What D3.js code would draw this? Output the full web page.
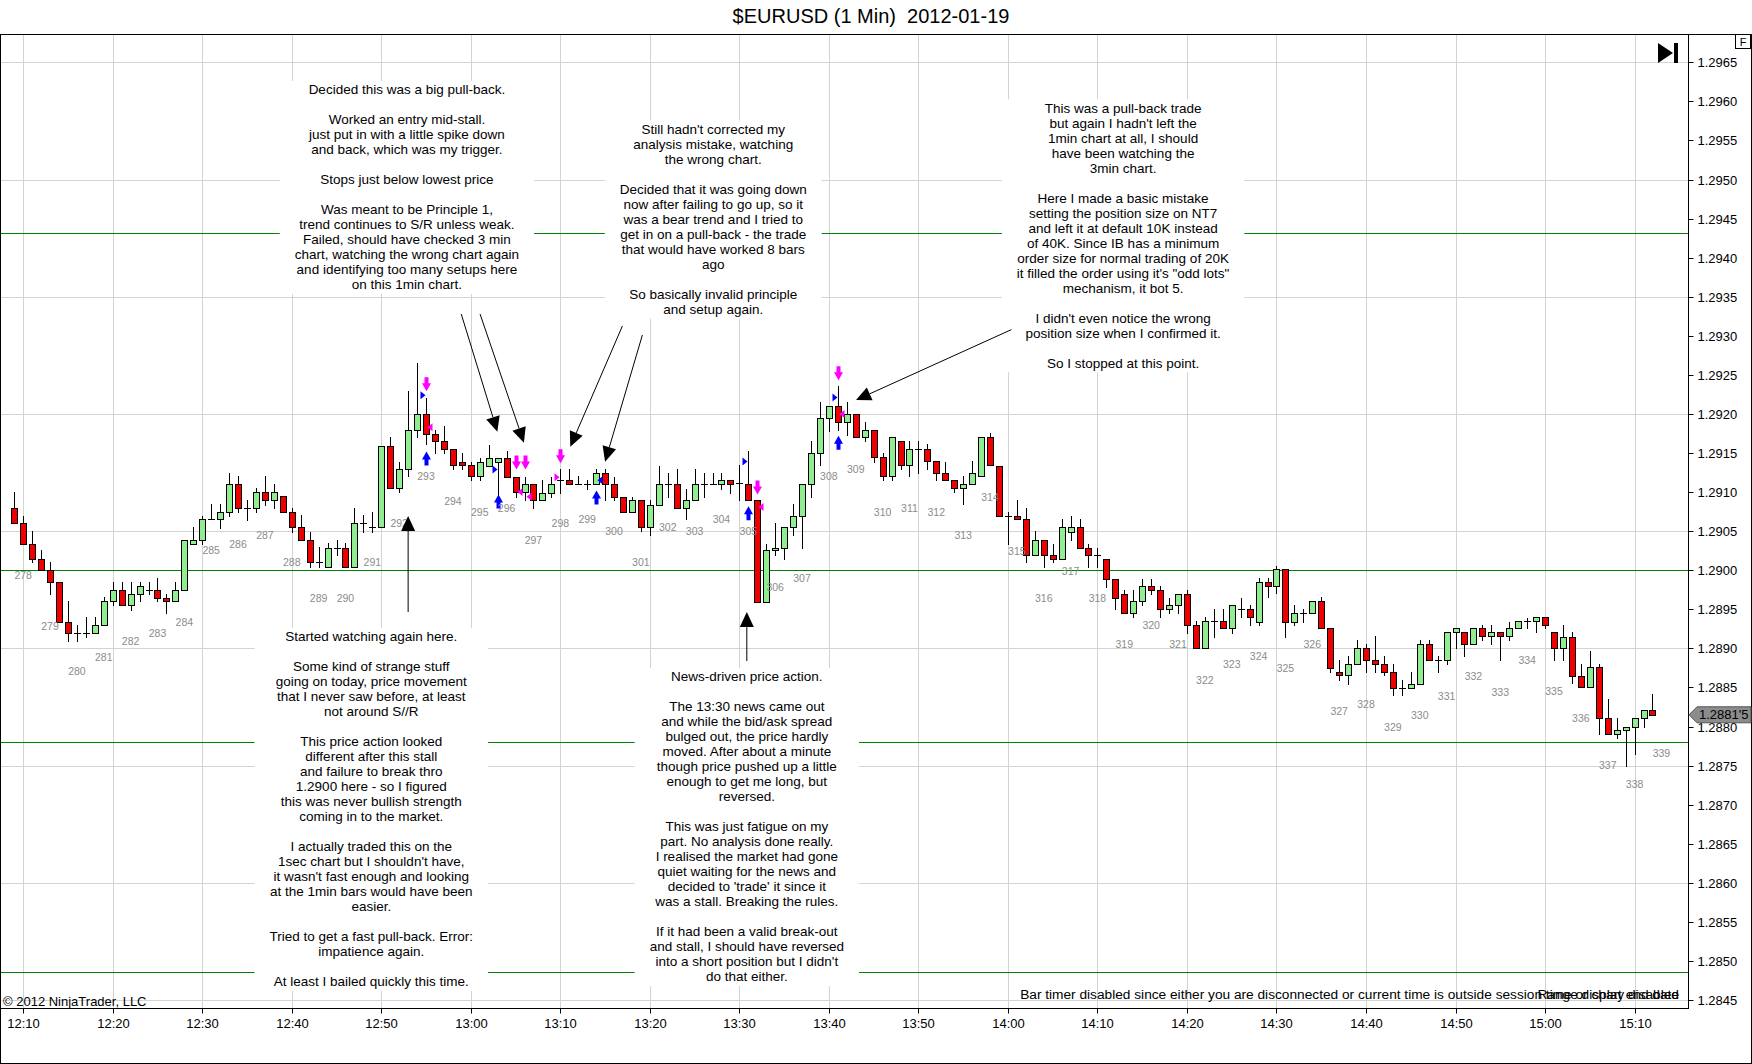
<!DOCTYPE html>
<html>
<head>
<meta charset="utf-8">
<title>$EURUSD (1 Min) 2012-01-19</title>
<script src="https://cdn.jsdelivr.net/npm/d3@7"></script>
<style>
  html, body { margin: 0; padding: 0; background: #fff; }
  svg { display: block; font-family: "Liberation Sans", Arial, sans-serif; }
  .note-text { font-size: 13.5px; fill: #000; }
  .swing { font-size: 10.5px; fill: #8c8c8c; }
  .axis text { font-size: 13px; fill: #000; font-family: "Liberation Sans", Arial, sans-serif; }
  .axis line { stroke: #000; }
</style>
</head>
<body>
<svg id="chart" width="1752" height="1064"></svg>
<script>
// 1 minute bars
const barTimes = [
  "12:09","12:10","12:11","12:12","12:13","12:14","12:15","12:16","12:17","12:18",
  "12:19","12:20","12:21","12:22","12:23","12:24","12:25","12:26","12:27","12:28",
  "12:29","12:30","12:31","12:32","12:33","12:34","12:35","12:36","12:37","12:38",
  "12:39","12:40","12:41","12:42","12:43","12:44","12:45","12:46","12:47","12:48",
  "12:49","12:50","12:51","12:52","12:53","12:54","12:55","12:56","12:57","12:58",
  "12:59","13:00","13:01","13:02","13:03","13:04","13:05","13:06","13:07","13:08",
  "13:09","13:10","13:11","13:12","13:13","13:14","13:15","13:16","13:17","13:18",
  "13:19","13:20","13:21","13:22","13:23","13:24","13:25","13:26","13:27","13:28",
  "13:29","13:30","13:31","13:32","13:33","13:34","13:35","13:36","13:37","13:38",
  "13:39","13:40","13:41","13:42","13:43","13:44","13:45","13:46","13:47","13:48",
  "13:49","13:50","13:51","13:52","13:53","13:54","13:55","13:56","13:57","13:58",
  "13:59","14:00","14:01","14:02","14:03","14:04","14:05","14:06","14:07","14:08",
  "14:09","14:10","14:11","14:12","14:13","14:14","14:15","14:16","14:17","14:18",
  "14:19","14:20","14:21","14:22","14:23","14:24","14:25","14:26","14:27","14:28",
  "14:29","14:30","14:31","14:32","14:33","14:34","14:35","14:36","14:37","14:38",
  "14:39","14:40","14:41","14:42","14:43","14:44","14:45","14:46","14:47","14:48",
  "14:49","14:50","14:51","14:52","14:53","14:54","14:55","14:56","14:57","14:58",
  "14:59","15:00","15:01","15:02","15:03","15:04","15:05","15:06","15:07","15:08",
  "15:09","15:10","15:11","15:12"
];

const opens = [
  1.29079,1.29060,1.29034,1.29015,1.29000,1.28985,1.28934,1.28920,1.28920,1.28920,
  1.28930,1.28960,1.28975,1.28955,1.28970,1.28975,1.28975,1.28965,1.28960,1.28975,
  1.29034,1.29039,1.29065,1.29065,1.29074,1.29110,1.29079,1.29079,1.29100,1.29090,
  1.29095,1.29074,1.29055,1.29039,1.29010,1.29004,1.29029,1.29029,1.29004,1.29060,
  1.29055,1.29055,1.29159,1.29105,1.29129,1.29179,1.29200,1.29174,1.29165,1.29155,
  1.29139,1.29135,1.29121,1.29134,1.29139,1.29144,1.29119,1.29100,1.29110,1.29090,
  1.29099,1.29115,1.29115,1.29110,1.29110,1.29110,1.29124,1.29110,1.29094,1.29074,
  1.29090,1.29055,1.29084,1.29110,1.29110,1.29079,1.29090,1.29110,1.29110,1.29110,
  1.29115,1.29111,1.29110,1.29090,1.28959,1.29026,1.29029,1.29055,1.29070,1.29110,
  1.29150,1.29195,1.29210,1.29190,1.29200,1.29170,1.29180,1.29145,1.29120,1.29165,
  1.29135,1.29155,1.29155,1.29140,1.29124,1.29115,1.29105,1.29110,1.29120,1.29170,
  1.29134,1.29070,1.29070,1.29065,1.29020,1.29039,1.29020,1.29015,1.29049,1.29055,
  1.29029,1.29020,1.29015,1.28989,1.28970,1.28945,1.28960,1.28980,1.28975,1.28950,
  1.28955,1.28970,1.28930,1.28900,1.28935,1.28935,1.28926,1.28950,1.28950,1.28934,
  1.28985,1.28980,1.29001,1.28934,1.28945,1.28945,1.28960,1.28926,1.28870,1.28866,
  1.28880,1.28900,1.28885,1.28880,1.28870,1.28849,1.28849,1.28855,1.28905,1.28885,
  1.28885,1.28921,1.28921,1.28905,1.28926,1.28916,1.28921,1.28916,1.28926,1.28935,
  1.28935,1.28940,1.28921,1.28900,1.28915,1.28865,1.28850,1.28876,1.28811,1.28790,
  1.28795,1.28800,1.28811,1.28821
];

const highs = [
  1.29100,1.29070,1.29050,1.29026,1.29011,1.28985,1.28960,1.28930,1.28940,1.28940,
  1.28966,1.28985,1.28985,1.28985,1.28985,1.28985,1.28990,1.28970,1.28985,1.29039,
  1.29055,1.29070,1.29085,1.29085,1.29124,1.29120,1.29090,1.29105,1.29121,1.29110,
  1.29095,1.29079,1.29071,1.29049,1.29030,1.29035,1.29039,1.29035,1.29079,1.29071,
  1.29074,1.29159,1.29170,1.29139,1.29229,1.29265,1.29220,1.29179,1.29185,1.29155,
  1.29150,1.29139,1.29144,1.29160,1.29144,1.29153,1.29119,1.29119,1.29110,1.29115,
  1.29119,1.29130,1.29130,1.29120,1.29115,1.29129,1.29130,1.29119,1.29094,1.29094,
  1.29090,1.29090,1.29134,1.29124,1.29129,1.29104,1.29129,1.29124,1.29124,1.29124,
  1.29115,1.29135,1.29152,1.29090,1.29034,1.29060,1.29055,1.29085,1.29110,1.29166,
  1.29215,1.29210,1.29236,1.29215,1.29200,1.29190,1.29180,1.29150,1.29170,1.29165,
  1.29166,1.29166,1.29161,1.29140,1.29139,1.29115,1.29120,1.29140,1.29170,1.29175,
  1.29134,1.29075,1.29090,1.29079,1.29050,1.29039,1.29034,1.29065,1.29070,1.29065,
  1.29034,1.29029,1.29015,1.28989,1.28975,1.28975,1.28989,1.28989,1.28980,1.28965,
  1.28970,1.28975,1.28935,1.28940,1.28950,1.28950,1.28955,1.28965,1.28955,1.28990,
  1.28990,1.29006,1.29001,1.28955,1.28950,1.28960,1.28966,1.28926,1.28885,1.28890,
  1.28911,1.28905,1.28916,1.28890,1.28880,1.28860,1.28870,1.28911,1.28911,1.28890,
  1.28921,1.28926,1.28921,1.28926,1.28930,1.28930,1.28921,1.28934,1.28935,1.28939,
  1.28940,1.28940,1.28921,1.28930,1.28921,1.28880,1.28896,1.28880,1.28835,1.28811,
  1.28800,1.28811,1.28821,1.28841
];

const lows = [
  1.29060,1.29034,1.29010,1.29000,1.28970,1.28934,1.28910,1.28910,1.28915,1.28920,
  1.28930,1.28955,1.28955,1.28949,1.28960,1.28970,1.28960,1.28945,1.28960,1.28975,
  1.29034,1.29034,1.29065,1.29054,1.29070,1.29074,1.29064,1.29074,1.29083,1.29079,
  1.29074,1.29049,1.29039,1.29004,1.29004,1.29004,1.29019,1.29004,1.29004,1.29049,
  1.29049,1.29055,1.29105,1.29100,1.29121,1.29170,1.29162,1.29150,1.29150,1.29129,
  1.29129,1.29115,1.29115,1.29134,1.29090,1.29119,1.29094,1.29090,1.29079,1.29090,
  1.29094,1.29099,1.29110,1.29110,1.29104,1.29110,1.29090,1.29090,1.29074,1.29074,
  1.29050,1.29045,1.29084,1.29094,1.29079,1.29065,1.29090,1.29094,1.29110,1.29104,
  1.29099,1.29090,1.29090,1.28959,1.28959,1.29019,1.29015,1.29045,1.29029,1.29094,
  1.29135,1.29178,1.29180,1.29173,1.29170,1.29165,1.29139,1.29115,1.29115,1.29130,
  1.29120,1.29124,1.29130,1.29115,1.29115,1.29100,1.29085,1.29110,1.29120,1.29135,
  1.29070,1.29034,1.29065,1.29010,1.29020,1.29004,1.29010,1.29015,1.29039,1.29029,
  1.29004,1.29004,1.28979,1.28950,1.28945,1.28940,1.28955,1.28970,1.28940,1.28945,
  1.28945,1.28920,1.28900,1.28900,1.28915,1.28926,1.28920,1.28940,1.28930,1.28930,
  1.28966,1.28971,1.28915,1.28930,1.28934,1.28945,1.28926,1.28870,1.28860,1.28855,
  1.28880,1.28870,1.28870,1.28866,1.28840,1.28840,1.28849,1.28855,1.28885,1.28870,
  1.28880,1.28900,1.28890,1.28905,1.28911,1.28905,1.28885,1.28911,1.28926,1.28926,
  1.28921,1.28926,1.28885,1.28885,1.28856,1.28850,1.28850,1.28790,1.28790,1.28785,
  1.28750,1.28765,1.28800,1.28815
];

const closes = [
  1.29060,1.29034,1.29015,1.29000,1.28985,1.28934,1.28920,1.28920,1.28920,1.28930,
  1.28960,1.28975,1.28955,1.28970,1.28980,1.28975,1.28965,1.28960,1.28975,1.29039,
  1.29039,1.29065,1.29065,1.29074,1.29110,1.29079,1.29079,1.29100,1.29090,1.29100,
  1.29074,1.29055,1.29039,1.29010,1.29010,1.29029,1.29029,1.29004,1.29060,1.29060,
  1.29055,1.29159,1.29105,1.29129,1.29179,1.29200,1.29174,1.29165,1.29155,1.29135,
  1.29135,1.29121,1.29139,1.29144,1.29144,1.29119,1.29100,1.29110,1.29090,1.29099,
  1.29110,1.29115,1.29110,1.29110,1.29110,1.29124,1.29110,1.29094,1.29074,1.29090,
  1.29055,1.29084,1.29110,1.29110,1.29079,1.29090,1.29110,1.29110,1.29110,1.29115,
  1.29110,1.29111,1.29090,1.28959,1.29026,1.29029,1.29055,1.29070,1.29110,1.29150,
  1.29195,1.29210,1.29190,1.29200,1.29170,1.29180,1.29145,1.29120,1.29170,1.29135,
  1.29155,1.29155,1.29140,1.29124,1.29115,1.29105,1.29110,1.29124,1.29170,1.29135,
  1.29070,1.29070,1.29065,1.29020,1.29039,1.29020,1.29015,1.29055,1.29055,1.29029,
  1.29020,1.29020,1.28989,1.28965,1.28945,1.28960,1.28980,1.28975,1.28950,1.28955,
  1.28970,1.28930,1.28900,1.28935,1.28935,1.28926,1.28955,1.28950,1.28940,1.28985,
  1.28980,1.29001,1.28934,1.28945,1.28945,1.28960,1.28926,1.28875,1.28866,1.28880,
  1.28900,1.28885,1.28880,1.28870,1.28849,1.28849,1.28855,1.28905,1.28885,1.28885,
  1.28921,1.28926,1.28905,1.28926,1.28916,1.28921,1.28916,1.28926,1.28935,1.28935,
  1.28940,1.28930,1.28900,1.28915,1.28865,1.28850,1.28876,1.28811,1.28790,1.28795,
  1.28800,1.28811,1.28821,1.28815
];

// swing counter labels: [time, price, text]
const swingLabels = [
  ["12:10",1.28994,"278"],["12:13",1.28929,"279"],["12:16",1.28871,"280"],["12:19",1.28889,"281"],
  ["12:22",1.28910,"282"],["12:25",1.28920,"283"],["12:28",1.28934,"284"],["12:31",1.29026,"285"],
  ["12:34",1.29034,"286"],["12:37",1.29045,"287"],["12:40",1.29010,"288"],["12:43",1.28965,"289"],
  ["12:46",1.28965,"290"],["12:49",1.29010,"291"],["12:52",1.29060,"292"],["12:55",1.29121,"293"],
  ["12:58",1.29089,"294"],["13:01",1.29074,"295"],["13:04",1.29079,"296"],["13:07",1.29039,"297"],
  ["13:10",1.29060,"298"],["13:13",1.29065,"299"],["13:16",1.29050,"300"],["13:19",1.29010,"301"],
  ["13:22",1.29055,"302"],["13:25",1.29050,"303"],["13:28",1.29065,"304"],["13:31",1.29050,"305"],
  ["13:34",1.28979,"306"],["13:37",1.28990,"307"],["13:40",1.29120,"308"],["13:43",1.29130,"309"],
  ["13:46",1.29074,"310"],["13:49",1.29079,"311"],["13:52",1.29074,"312"],["13:55",1.29045,"313"],
  ["13:58",1.29094,"314"],["14:01",1.29025,"315"],["14:04",1.28965,"316"],["14:07",1.28999,"317"],
  ["14:10",1.28965,"318"],["14:13",1.28905,"319"],["14:16",1.28930,"320"],["14:19",1.28905,"321"],
  ["14:22",1.28860,"322"],["14:25",1.28880,"323"],["14:28",1.28890,"324"],["14:31",1.28875,"325"],
  ["14:34",1.28905,"326"],["14:37",1.28820,"327"],["14:40",1.28829,"328"],["14:43",1.28799,"329"],
  ["14:46",1.28815,"330"],["14:49",1.28839,"331"],["14:52",1.28865,"332"],["14:55",1.28844,"333"],
  ["14:58",1.28885,"334"],["15:01",1.28846,"335"],["15:04",1.28811,"336"],["15:07",1.28751,"337"],
  ["15:10",1.28726,"338"],["15:13",1.28766,"339"]
];

// execution markers: [time, price, kind]
const executions = [
  ["12:55",1.29238,"sellArrow"],["12:55",1.29224,"buyEntry"],["12:55",1.29143,"buyArrow"],["12:55",1.29183,"sellExit"],
  ["13:03",1.29129,"buyEntry"],["13:03",1.29088,"buyArrow"],
  ["13:05",1.29138,"sellArrow"],["13:05",1.29100,"sellExit"],
  ["13:06",1.29138,"sellArrow"],["13:06",1.29094,"sellExit"],
  ["13:10",1.29146,"sellArrow"],["13:10",1.29119,"sellEntry"],
  ["13:14",1.29093,"buyArrow"],["13:14",1.29115,"buyExit"],
  ["13:31",1.29139,"buyEntry"],["13:31",1.29073,"buyArrow"],
  ["13:32",1.29106,"sellArrow"],["13:32",1.29081,"sellExit"],
  ["13:41",1.29221,"buyEntry"],["13:41",1.29252,"sellArrow"],["13:41",1.29163,"buyArrow"],["13:41",1.29200,"sellExit"]
];

// support / resistance lines
const srLevels = [1.29432, 1.29000, 1.28780, 1.28486];

const priceTicks = [1.2845,1.2850,1.2855,1.2860,1.2865,1.2870,1.2875,1.2880,1.2885,1.2890,1.2895,1.2900,
  1.2905,1.2910,1.2915,1.2920,1.2925,1.2930,1.2935,1.2940,1.2945,1.2950,1.2955,1.2960,1.2965];
const gridPrices = [1.2845,1.2860,1.2875,1.2890,1.2905,1.2920,1.2935,1.2950,1.2965];
const timeTicks = ["12:10","12:20","12:30","12:40","12:50","13:00","13:10","13:20","13:30","13:40",
  "13:50","14:00","14:10","14:20","14:30","14:40","14:50","15:00","15:10"];

// hand drawn arrows: [fromTime, fromPrice, toTime, toPrice]
const arrowLines = [
  ["12:58:56",1.293279,"13:02:58",1.291773],
  ["13:01:02",1.293279,"13:05:56",1.291632],
  ["13:16:56",1.293125,"13:11:07",1.291581],
  ["13:19:10",1.293010,"13:15:00",1.291389],
  ["14:00:23",1.293079,"13:43:02",1.292178],
  ["12:53:00",1.289465,"12:53:00",1.290694],
  ["13:30:50",1.288838,"13:30:50",1.289465]
];

const note1Lines = [
  "Decided this was a big pull-back.", "",
  "Worked an entry mid-stall.", "just put in with a little spike down", "and back, which was my trigger.", "",
  "Stops just below lowest price", "",
  "Was meant to be Principle 1,", "trend continues to S/R unless weak.", "Failed, should have checked 3 min",
  "chart, watching the wrong chart again", "and identifying too many setups here", "on this 1min chart."
];
const note2Lines = [
  "Still hadn't corrected my", "analysis mistake, watching", "the wrong chart.", "",
  "Decided that it was going down", "now after failing to go up, so it", "was a bear trend and I tried to",
  "get in on a pull-back - the trade", "that would have worked 8 bars", "ago", "",
  "So basically invalid principle", "and setup again."
];
const note3Lines = [
  "This was a pull-back trade", "but again I hadn't left the", "1min chart at all, I should", "have been watching the", "3min chart.", "",
  "Here I made a basic mistake", "setting the position size on NT7", "and left it at default 10K instead",
  "of 40K. Since IB has a minimum", "order size for normal trading of 20K", "it filled the order using it's \"odd lots\"",
  "mechanism, it bot 5.", "",
  "I didn't even notice the wrong", "position size when I confirmed it.", "",
  "So I stopped at this point."
];
const note4Lines = [
  "Started watching again here.", "",
  "Some kind of strange stuff", "going on today, price movement", "that I never saw before, at least", "not around S//R", "",
  "This price action looked", "different after this stall", "and failure to break thro", "1.2900 here - so I figured",
  "this was never bullish strength", "coming in to the market.", "",
  "I actually traded this on the", "1sec chart but I shouldn't have,", "it wasn't fast enough and looking",
  "at the 1min bars would have been", "easier.", "",
  "Tried to get a fast pull-back. Error:", "impatience again.", "",
  "At least I bailed quickly this time."
];
const note5Lines = [
  "News-driven price action.", "",
  "The 13:30 news came out", "and while the bid/ask spread", "bulged out, the price hardly", "moved. After about a minute",
  "though price pushed up a little", "enough to get me long, but", "reversed.", "",
  "This was just fatigue on my", "part. No analysis done really.", "I realised the market had gone",
  "quiet waiting for the news and", "decided to 'trade' it since it", "was a stall. Breaking the rules.", "",
  "If it had been a valid break-out", "and stall, I should have reversed", "into a short position but I didn't", "do that either."
];

// anchor of each note: centre time, price of first line
const notes = [
  { time: "12:52:52", price: 1.296146, lines: note1Lines },
  { time: "13:27:05", price: 1.295639, lines: note2Lines },
  { time: "14:12:52", price: 1.295911, lines: note3Lines },
  { time: "12:48:53", price: 1.289147, lines: note4Lines },
  { time: "13:30:50", price: 1.288634, lines: note5Lines }
];

const titleText = "$EURUSD (1 Min)  2012-01-19";
const copyrightText = "\u00a9 2012 NinjaTrader, LLC";
const barTimerText = "Bar timer disabled since either you are disconnected or current time is outside session time or chart end date";
const rangeText = "Range display disabled";
const lastPriceLabel = "1.2881'5";

function toMinutes(s) {
  const [h, m, sec = 0] = s.split(":").map(Number);
  return h * 60 + m + sec / 60;
}

const W = 1752;
const H = 1064;
const plot = { left: 0, top: 34, right: 1688, bottom: 1008 };
const lineHeight = 15;

const x = d3.scaleLinear()
  .domain([toMinutes("12:07:24.6"), toMinutes("15:15:58")])
  .range([plot.left, plot.right]);

const y = d3.scaleLinear()
  .domain([1.284394, 1.296862])
  .range([1008.3, plot.top]);

const snap = (v) => Math.round(v) + 0.5;

const svg = d3.select("#chart");

svg.append("rect").attr("width", W).attr("height", H).attr("fill", "#fff");

svg.append("defs").append("clipPath").attr("id", "plot-clip")
  .append("rect")
  .attr("x", plot.left).attr("y", plot.top)
  .attr("width", plot.right - plot.left).attr("height", plot.bottom - plot.top);

const plotG = svg.append("g").attr("clip-path", "url(#plot-clip)");

// grid
plotG.append("g")
  .selectAll("line")
  .data(timeTicks)
  .join("line")
  .attr("x1", (d) => snap(x(toMinutes(d))))
  .attr("x2", (d) => snap(x(toMinutes(d))))
  .attr("y1", plot.top)
  .attr("y2", plot.bottom)
  .attr("stroke", "#d3d3d3");

plotG.append("g")
  .selectAll("line")
  .data(gridPrices)
  .join("line")
  .attr("x1", plot.left)
  .attr("x2", plot.right)
  .attr("y1", (d) => snap(y(d)))
  .attr("y2", (d) => snap(y(d)))
  .attr("stroke", "#d3d3d3");

// S/R lines
plotG.append("g")
  .selectAll("line")
  .data(srLevels)
  .join("line")
  .attr("x1", plot.left)
  .attr("x2", plot.right)
  .attr("y1", (d) => snap(y(d)))
  .attr("y2", (d) => snap(y(d)))
  .attr("stroke", "#008000");

// text notes on white boxes
notes.forEach((note) => {
  const g = plotG.append("g");
  const cx = x(toMinutes(note.time));
  const y0 = y(note.price);
  const box = g.append("rect").attr("fill", "#fff");
  const texts = g.selectAll("text")
    .data(note.lines)
    .join("text")
    .attr("class", "note-text")
    .attr("x", cx)
    .attr("y", (d, i) => y0 + i * lineHeight)
    .attr("text-anchor", "middle")
    .attr("dominant-baseline", "central")
    .text((d) => d);
  const widest = d3.max(texts.nodes(), (n) => n.getComputedTextLength());
  box.attr("x", cx - widest / 2 - 15)
    .attr("y", y0 - 9)
    .attr("width", widest + 30)
    .attr("height", (note.lines.length - 1) * lineHeight + 18);
});

// candles
const bars = barTimes.map((t, i) => ({
  t: toMinutes(t), o: opens[i], h: highs[i], l: lows[i], c: closes[i]
}));

const candles = plotG.append("g")
  .selectAll("g")
  .data(bars)
  .join("g");

candles.append("line")
  .attr("x1", (d) => snap(x(d.t)))
  .attr("x2", (d) => snap(x(d.t)))
  .attr("y1", (d) => Math.round(y(d.h)))
  .attr("y2", (d) => Math.round(y(d.l)) + 1)
  .attr("stroke", "#000");

candles.filter((d) => d.o !== d.c)
  .append("rect")
  .attr("x", (d) => Math.round(x(d.t)) - 2.5)
  .attr("y", (d) => Math.round(y(Math.max(d.o, d.c))) + 0.5)
  .attr("width", 6)
  .attr("height", (d) => Math.max(1, Math.round(y(Math.min(d.o, d.c))) - Math.round(y(Math.max(d.o, d.c)))))
  .attr("fill", (d) => (d.c > d.o ? "#90ee90" : "#ee0000"))
  .attr("stroke", "#000");

candles.filter((d) => d.o === d.c)
  .append("line")
  .attr("x1", (d) => Math.round(x(d.t)) - 3)
  .attr("x2", (d) => Math.round(x(d.t)) + 4)
  .attr("y1", (d) => snap(y(d.o)))
  .attr("y2", (d) => snap(y(d.o)))
  .attr("stroke", "#000");

// execution markers
const markerStyle = {
  sellArrow: { color: "#ff00ff", shape: "down", dx: 0 },
  buyArrow: { color: "#0000ff", shape: "up", dx: 0 },
  buyEntry: { color: "#0000ff", shape: "right", dx: -3.5 },
  buyExit: { color: "#0000ff", shape: "left", dx: 3.5 },
  sellEntry: { color: "#ff00ff", shape: "right", dx: -3.5 },
  sellExit: { color: "#ff00ff", shape: "left", dx: 3.5 }
};

function markerPath(shape, cx, cy) {
  if (shape === "down") {
    return `M${cx - 2},${cy - 7}H${cx + 2}V${cy - 1}H${cx + 4.5}L${cx},${cy + 7}L${cx - 4.5},${cy - 1}H${cx - 2}Z`;
  }
  if (shape === "up") {
    return `M${cx - 2},${cy + 7}H${cx + 2}V${cy + 1}H${cx + 4.5}L${cx},${cy - 7}L${cx - 4.5},${cy + 1}H${cx - 2}Z`;
  }
  if (shape === "right") {
    return `M${cx - 2.5},${cy - 4}L${cx + 2.5},${cy}L${cx - 2.5},${cy + 4}Z`;
  }
  return `M${cx + 2.5},${cy - 4}L${cx - 2.5},${cy}L${cx + 2.5},${cy + 4}Z`;
}

plotG.append("g")
  .selectAll("path")
  .data(executions)
  .join("path")
  .attr("d", (d) => {
    const s = markerStyle[d[2]];
    return markerPath(s.shape, Math.round(x(toMinutes(d[0]))) + 0.5 + s.dx, y(d[1]));
  })
  .attr("fill", (d) => markerStyle[d[2]].color);

// swing labels
plotG.append("g")
  .selectAll("text")
  .data(swingLabels)
  .join("text")
  .attr("class", "swing")
  .attr("x", (d) => x(toMinutes(d[0])))
  .attr("y", (d) => y(d[1]))
  .attr("text-anchor", "middle")
  .attr("dominant-baseline", "central")
  .text((d) => d[2]);

// arrows
const arrowG = plotG.append("g");
arrowLines.forEach(([t1, p1, t2, p2]) => {
  const x1 = x(toMinutes(t1)), y1 = y(p1), x2 = x(toMinutes(t2)), y2 = y(p2);
  const len = Math.hypot(x2 - x1, y2 - y1);
  const ux = (x2 - x1) / len, uy = (y2 - y1) / len;
  const bx = x2 - ux * 15, by = y2 - uy * 15;
  arrowG.append("line")
    .attr("x1", x1).attr("y1", y1).attr("x2", bx).attr("y2", by)
    .attr("stroke", "#000");
  arrowG.append("path")
    .attr("d", `M${x2},${y2}L${bx - uy * 7},${by + ux * 7}L${bx + uy * 7},${by - ux * 7}Z`)
    .attr("fill", "#000");
});

// status texts inside the plot
svg.append("text")
  .attr("x", 3).attr("y", 1001)
  .attr("dominant-baseline", "central")
  .attr("font-size", 13)
  .text(copyrightText);

svg.append("g")
  .selectAll("text")
  .data([barTimerText, rangeText])
  .join("text")
  .attr("x", 1679).attr("y", 994)
  .attr("text-anchor", "end")
  .attr("dominant-baseline", "central")
  .attr("font-size", 13.7)
  .text((d) => d);

// axes
svg.append("g")
  .attr("class", "axis")
  .attr("transform", `translate(0,${plot.bottom + 0.5})`)
  .call(d3.axisBottom(x)
    .tickValues(timeTicks.map(toMinutes))
    .tickFormat((d, i) => timeTicks[i])
    .tickSize(5)
    .tickPadding(5))
  .call((g) => g.select(".domain").remove())
  .call((g) => g.selectAll(".tick").attr("transform", (d) => `translate(${snap(x(d))},0)`));

svg.append("g")
  .attr("class", "axis")
  .attr("transform", `translate(${plot.right + 0.5},0)`)
  .call(d3.axisRight(y)
    .tickValues(priceTicks)
    .tickFormat(d3.format(".4f"))
    .tickSize(5)
    .tickPadding(4))
  .call((g) => g.select(".domain").remove())
  .call((g) => g.selectAll(".tick").attr("transform", (d) => `translate(0,${snap(y(d))})`));

// frame
svg.append("rect")
  .attr("x", 0.5).attr("y", plot.top + 0.5)
  .attr("width", W - 1).attr("height", H - plot.top - 1)
  .attr("fill", "none").attr("stroke", "#000");

svg.append("line")
  .attr("x1", plot.left).attr("x2", plot.right + 1)
  .attr("y1", plot.bottom + 0.5).attr("y2", plot.bottom + 0.5)
  .attr("stroke", "#000");

svg.append("line")
  .attr("x1", plot.right + 0.5).attr("x2", plot.right + 0.5)
  .attr("y1", plot.top).attr("y2", plot.bottom + 1)
  .attr("stroke", "#000");

// last price marker on the price axis
const lastY = y(closes[closes.length - 1]);
svg.append("path")
  .attr("d", `M${plot.right + 1},${lastY}L${plot.right + 9},${lastY - 8}H${W - 1}V${lastY + 8}H${plot.right + 9}Z`)
  .attr("fill", "#8c8c8c")
  .attr("stroke", "#555");
svg.append("text")
  .attr("x", plot.right + 11).attr("y", lastY)
  .attr("dominant-baseline", "central")
  .attr("font-size", 13)
  .text(lastPriceLabel);

// title
svg.append("text")
  .attr("x", 871).attr("y", 16)
  .attr("text-anchor", "middle")
  .attr("dominant-baseline", "central")
  .attr("font-size", 20)
  .style("white-space", "pre")
  .text(titleText);

// chart chrome: scroll-to-end button and "F" box
svg.append("path").attr("d", "M1658,43L1673,53L1658,63Z").attr("fill", "#000");
svg.append("rect").attr("x", 1674).attr("y", 43).attr("width", 4).attr("height", 20).attr("fill", "#000");
svg.append("rect").attr("x", 1735.5).attr("y", 34.5).attr("width", 15).attr("height", 14)
  .attr("fill", "#fff").attr("stroke", "#000");
svg.append("text").attr("x", 1743).attr("y", 42).attr("text-anchor", "middle")
  .attr("dominant-baseline", "central").attr("font-size", 11).text("F");
</script>
</body>
</html>
